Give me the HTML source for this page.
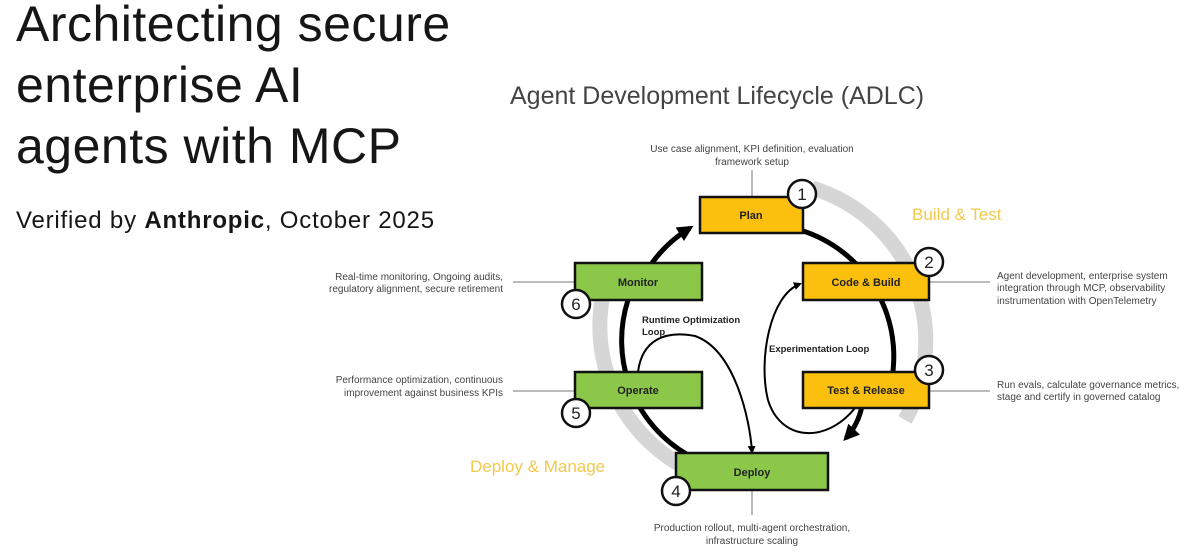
<!DOCTYPE html>
<html><head><style>
body{margin:0;width:1200px;height:558px;background:#fff;overflow:hidden;font-family:"Liberation Sans",sans-serif;position:relative}
.t{position:absolute;left:16px;top:-6px;font-size:50px;line-height:61px;color:#161616;letter-spacing:0.5px}
.s{position:absolute;left:16px;top:207px;font-size:24px;color:#161616;letter-spacing:0.8px}
</style></head><body>
<div class="t">Architecting secure<br>enterprise AI<br>agents with MCP</div>
<div class="s">Verified by <b>Anthropic</b>, October 2025</div>
<svg width="1200" height="558" style="position:absolute;left:0;top:0" font-family="Liberation Sans, sans-serif">
<defs><marker id="a" markerWidth="8" markerHeight="8" refX="6" refY="4" orient="auto" markerUnits="userSpaceOnUse"><path d="M0,0L8,4L0,8z" fill="#000"/></marker>
<marker id="b" markerWidth="16" markerHeight="16" refX="12" refY="8" orient="auto" markerUnits="userSpaceOnUse"><path d="M0,0L16,8L0,16z" fill="#000"/></marker></defs>
<text x="510" y="104" font-size="25" fill="#444">Agent Development Lifecycle (ADLC)</text>
<text x="912" y="220" font-size="17" fill="#f2c94c">Build &amp; Test</text>
<text x="470" y="472" font-size="17" fill="#f2c94c">Deploy &amp; Manage</text>
<path d="M812,188 A160,160 0 0 1 905,420" fill="none" stroke="#d6d6d6" stroke-width="15"/>
<path d="M690,470 A160,160 0 0 1 610,270" fill="none" stroke="#d6d6d6" stroke-width="15"/>
<path d="M800,230 A132,132 0 0 1 888,395" fill="none" stroke="#000" stroke-width="5"/>
<path d="M862,406 Q858,425 846,438" fill="none" stroke="#000" stroke-width="5" marker-end="url(#b)"/>
<path d="M688,455 A132,132 0 0 1 628,300" fill="none" stroke="#000" stroke-width="5"/>
<path d="M652,263 A132,132 0 0 1 690,228" fill="none" stroke="#000" stroke-width="5" marker-end="url(#b)"/>
<path d="M855,408 C825,445 780,440 768,400 C758,360 770,295 800,284" fill="none" stroke="#000" stroke-width="2" marker-end="url(#a)"/>
<path d="M638,372 C642,340 665,330 695,336 C735,350 750,420 752,452" fill="none" stroke="#000" stroke-width="2" marker-end="url(#a)"/>
<text x="642" y="323" font-size="9.5" font-weight="bold" fill="#222">Runtime Optimization</text>
<text x="642" y="335" font-size="9.5" font-weight="bold" fill="#222">Loop</text>
<text x="769" y="352" font-size="9.5" font-weight="bold" fill="#222">Experimentation Loop</text>
<g stroke="#777" stroke-width="1">
<line x1="752" y1="170" x2="752" y2="197"/><line x1="752" y1="490" x2="752" y2="515"/>
<line x1="513" y1="282" x2="575" y2="282"/><line x1="513" y1="391" x2="575" y2="391"/>
<line x1="929" y1="282" x2="990" y2="282"/><line x1="929" y1="391" x2="990" y2="391"/>
</g>
<g stroke="#111" stroke-width="2.5" font-size="11" font-weight="bold" text-anchor="middle">
<rect x="700" y="197" width="103" height="36" fill="#fbbf0e"/>
<rect x="803" y="263" width="126" height="37" fill="#fbbf0e"/>
<rect x="803" y="372" width="126" height="36" fill="#fbbf0e"/>
<rect x="575" y="263" width="127" height="37" fill="#8bc84a"/>
<rect x="575" y="372" width="127" height="36" fill="#8bc84a"/>
<rect x="676" y="453" width="152" height="37" fill="#8bc84a"/>
<g stroke="none" fill="#222">
<text x="751" y="219">Plan</text><text x="866" y="286">Code &amp; Build</text><text x="866" y="394">Test &amp; Release</text>
<text x="638" y="286">Monitor</text><text x="638" y="394">Operate</text><text x="752" y="476">Deploy</text>
</g>
</g>
<g stroke="#111" stroke-width="2.5" fill="#fff">
<circle cx="802" cy="194" r="14"/><circle cx="929" cy="262" r="14"/><circle cx="929" cy="370" r="14"/>
<circle cx="676" cy="491" r="14"/><circle cx="576" cy="413" r="14"/><circle cx="576" cy="304" r="14"/>
</g>
<g font-size="17" text-anchor="middle" fill="#222">
<text x="802" y="200">1</text><text x="929" y="268">2</text><text x="929" y="376">3</text>
<text x="676" y="497">4</text><text x="576" y="419">5</text><text x="576" y="310">6</text>
</g>
<g font-size="10" fill="#444">
<g text-anchor="middle"><text x="752" y="152">Use case alignment, KPI definition, evaluation</text><text x="752" y="165">framework setup</text>
<text x="752" y="531">Production rollout, multi-agent orchestration,</text><text x="752" y="544">infrastructure scaling</text></g>
<g text-anchor="end"><text x="503" y="280">Real-time monitoring, Ongoing audits,</text><text x="503" y="292">regulatory alignment, secure retirement</text>
<text x="503" y="383">Performance optimization, continuous</text><text x="503" y="396">improvement against business KPIs</text></g>
<text x="997" y="279">Agent development, enterprise system</text><text x="997" y="291">integration through MCP, observability</text><text x="997" y="304">instrumentation with OpenTelemetry</text>
<text x="997" y="388">Run evals, calculate governance metrics,</text><text x="997" y="400">stage and certify in governed catalog</text>
</g>
</svg>
</body></html>
